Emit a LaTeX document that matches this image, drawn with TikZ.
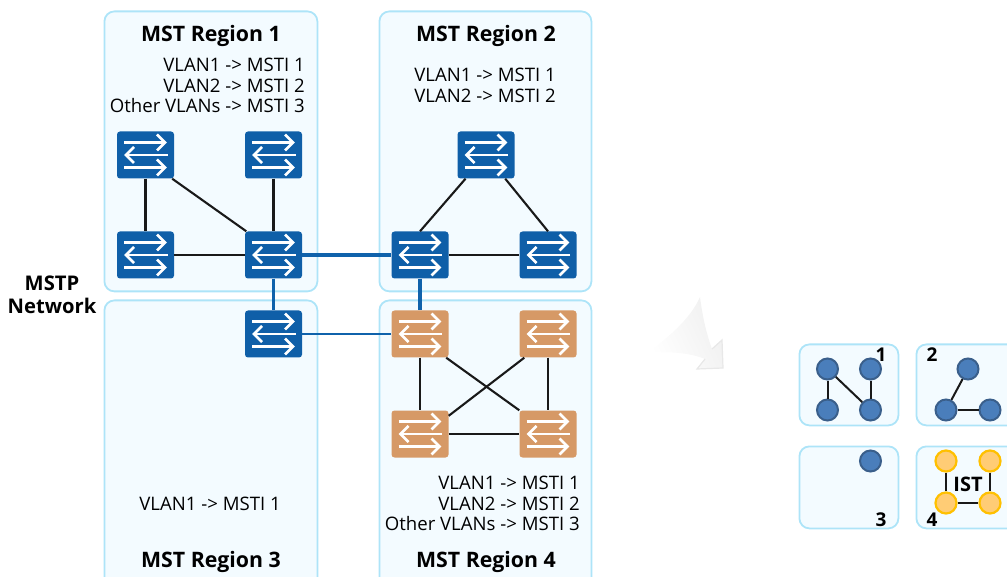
\documentclass[tikz,border=0pt]{standalone}
\usepackage{fontspec}
\setmainfont{Open Sans}
\definecolor{panelfill}{HTML}{F3FBFF}
\definecolor{paneledge}{HTML}{ADE4F8}
\definecolor{swblue}{HTML}{0F5FA8}
\definecolor{sworange}{HTML}{D69966}
\definecolor{dotblue}{HTML}{4A7EBB}
\definecolor{dotedge}{HTML}{3A5F8B}
\definecolor{dotorange}{HTML}{FFCC75}
\definecolor{dotoredge}{HTML}{FFC000}
\definecolor{linkblue}{HTML}{0F62AB}
\newcommand{\swglyph}{%
  \begin{scope}[shift={(path picture bounding box.center)},white,line width=2.6pt,line join=miter,sharp corners]
    \draw (-21.5,-12.5)--(19,-12.5);
    \draw (11.5,-20.5)--(19.5,-12.5)--(11.5,-4.5);
    \draw (22,0)--(-19,0);
    \draw (-11.5,-8)--(-19.5,0)--(-11.5,8);
    \draw (-21.5,12.5)--(19,12.5);
    \draw (11.5,4.5)--(19.5,12.5)--(11.5,20.5);
  \end{scope}}
\tikzset{
  x=1pt,y=-1pt,
  region/.style={draw=paneledge,fill=panelfill,line width=1.8pt,rounded corners=10pt,minimum width=#1,inner sep=0pt,anchor=north west},
  swbase/.style={rectangle,rounded corners=3pt,minimum width=57pt,minimum height=47pt,inner sep=0pt,path picture={\swglyph}},
  swb/.style={swbase,fill=swblue},
  swo/.style={swbase,fill=sworange},
  link/.style={black!90,line width=2.1pt},
  trunk/.style={linkblue,line width=3.4pt},
  head/.style={font=\fontsize{21.3}{23}\selectfont\bfseries},
  vlan/.style={font=\fontsize{18.6}{20.5}\selectfont,inner sep=0pt},
  dotb/.style={circle,minimum size=21pt,inner sep=0pt,fill=dotblue,draw=dotedge,line width=2pt},
  doto/.style={circle,minimum size=21pt,inner sep=0pt,fill=dotorange,draw=dotoredge,line width=2.2pt},
  tiny/.style={link,line width=2pt},
  num/.style={font=\fontsize{19}{20}\selectfont\bfseries,inner sep=0pt},
}
\begin{document}
\begin{tikzpicture}
\useasboundingbox (0,0) rectangle (1007,577);
\clip (0,0) rectangle (1007,577);
% regions
\node[region=213pt,minimum height=280pt] (r1) at (103.5,10.5) {};
\node[region=212pt,minimum height=280pt] (r2) at (378.5,10.5) {};
\node[region=213pt,minimum height=300pt] (r3) at (103.5,299.5) {};
\node[region=212pt,minimum height=300pt] (r4) at (378.5,299.5) {};
% panels
\node[region=99pt,minimum height=81pt] (p1) at (798.5,343.5) {};
\node[region=110pt,minimum height=81pt] (p2) at (915.5,343.5) {};
\node[region=99pt,minimum height=82pt] (p3) at (798.5,445.5) {};
\node[region=110pt,minimum height=82pt] (p4) at (915.5,445.5) {};
% faint arrow
\shade[left color=white,right color=black!6,shading angle=115]
  (700,297) .. controls (703,320) and (707,335) .. (712,349)
  -- (722,340) -- (723,368) -- (697,369) -- (705,359)
  .. controls (690,353) and (670,351) .. (647,353)
  .. controls (665,340) and (690,320) .. (700,297) -- cycle;
\draw[black!9,line width=1.2pt] (712,349) -- (722,340) -- (723,368) -- (697,369) -- (705,359);
% switches
\node[swb] (a1) at (145.5,155) {};
\node[swb] (a2) at (273.5,155) {};
\node[swb] (a3) at (145.5,255) {};
\node[swb] (a4) at (273.5,255) {};
\node[swb] (b1) at (486,155) {};
\node[swb] (b2) at (420,255) {};
\node[swb] (b3) at (548,255) {};
\node[swb] (c1) at (273.5,334) {};
\node[swo] (d1) at (420,334) {};
\node[swo] (d2) at (548,334) {};
\node[swo] (d3) at (420,434) {};
\node[swo] (d4) at (548,434) {};
% links
\draw[link] (a1)--(a3);
\draw[link] ([xshift=-2pt]a1.south east)--([xshift=1.5pt]a4.north west);
\draw[link] (a2)--(a4);
\draw[link] (a3)--(a4);
\draw[link] (b1)--(b2.north);
\draw[link] (b1)--(b3.north);
\draw[link] (b2)--(b3);
\draw[link] (d1)--(d3);
\draw[link] (d2)--(d4);
\draw[link] (d3)--(d4);
\draw[link] ([xshift=-2.5pt]d1.south east)--(d4.north west);
\draw[link] ([xshift=5pt]d2.south west)--([yshift=-5.5pt]d3.north east);
\draw[trunk] (a4)--(b2);
\draw[trunk] (a4)--(c1);
\draw[trunk] (b2)--(d1);
\draw[trunk,line width=2.6pt] (c1)--(d1);
% text
\node[head] (t1) at (211,36) {MST Region 1};
\node[head] (t2) at (486,36) {MST Region 2};
\node[head] (t3) at (211,562) {MST Region 3};
\node[head] (t4) at (486,562) {MST Region 4};
\node[vlan,align=right,anchor=east] (v1) at (305,85.5) {VLAN1 -> MSTI 1\\VLAN2 -> MSTI 2\\Other VLANs -> MSTI 3};
\node[vlan,align=center] (v2) at (485,85.5) {VLAN1 -> MSTI 1\\VLAN2 -> MSTI 2};
\node[vlan] (v3) at (210,504) {VLAN1 -> MSTI 1};
\node[vlan,align=right,anchor=east] (v4) at (580,503.5) {VLAN1 -> MSTI 1\\VLAN2 -> MSTI 2\\Other VLANs -> MSTI 3};
\node[head,align=center,font=\fontsize{20.2}{23}\selectfont\bfseries] (net) at (52,294.5) {MSTP\\Network};
% panel 1
\node[dotb] (e1) at (827.5,369) {};
\node[dotb] (e2) at (870.5,369) {};
\node[dotb] (e3) at (827.5,410) {};
\node[dotb] (e4) at (870.5,410) {};
\draw[tiny] (e1)--(e3);
\draw[tiny] (e1)--(e4);
\draw[tiny] (e2)--(e4);
\node[num] (n1) at (881,355) {1};
% panel 2
\node[dotb] (f1) at (968,369) {};
\node[dotb] (f2) at (946,410) {};
\node[dotb] (f3) at (990,410) {};
\draw[tiny] (f1)--(f2);
\draw[tiny] (f2)--(f3);
\node[num] (n2) at (932,355) {2};
% panel 3
\node[dotb] (g1) at (870.5,461) {};
\node[num] (n3) at (881,520) {3};
% panel 4
\node[doto] (h1) at (946,461) {};
\node[doto] (h2) at (990,461) {};
\node[doto] (h3) at (946,503) {};
\node[doto] (h4) at (990,503) {};
\draw[tiny] (h1)--(h3);
\draw[tiny] (h2)--(h4);
\draw[tiny] (h3)--(h4);
\node[num,font=\fontsize{20}{20}\selectfont\bfseries] (ist) at (968,484) {IST};
\node[num] (n4) at (932,520) {4};
\end{tikzpicture}
\end{document}
